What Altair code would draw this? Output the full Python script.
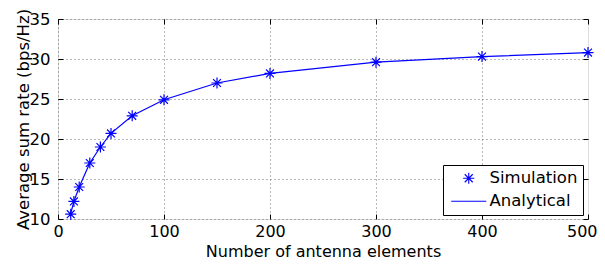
import altair as alt
import pandas as pd

# ---- data ----
antennas = [12, 15, 20, 30, 40, 50, 70, 100, 150, 200, 300, 400, 500]
simulation = [10.6, 12.2, 14.0, 17.0, 19.0, 20.7, 22.9, 24.9, 27.0, 28.2, 29.6, 30.3, 30.8]
analytical = [10.7, 12.2, 14.0, 17.0, 19.0, 20.7, 22.9, 24.9, 27.0, 28.2, 29.6, 30.3, 30.8]
x_ticks = [0, 100, 200, 300, 400, 500]
y_ticks = [10, 15, 20, 25, 30, 35]
series_names = ["Simulation", "Analytical"]

sim_df = pd.DataFrame({"n": antennas, "rate": simulation, "series": "Simulation"})
ana_df = pd.DataFrame({"n": antennas, "rate": analytical, "series": "Analytical"})

ASTERISK = "M-0.8,0L0.8,0M0,-0.8L0,0.8M-0.57,-0.57L0.57,0.57M-0.57,0.57L0.57,-0.57"
LINE = "M-2.5,0L2.5,0"
BLUE = "#0000ff"
FONT = "DejaVu Sans"
FS = 16.5
FSX = 16

xscale = alt.Scale(domain=[0, 500], nice=False)
yscale = alt.Scale(domain=[10, 35], nice=False)

legend = alt.Legend(
    title=None, orient="none", legendX=385, legendY=146,
    fillColor="white", strokeColor="black", padding=5,
    labelFont=FONT, labelFontSize=FS, labelColor="black", labelOffset=12.5,
    symbolOffset=12.5,
    rowPadding=6, symbolSize=196, symbolStrokeWidth=1.1,
)
color = alt.Color("series:N", scale=alt.Scale(domain=series_names, range=[BLUE, BLUE]), legend=legend)
shape = alt.Shape("series:N", scale=alt.Scale(domain=series_names, range=[ASTERISK, LINE]), legend=legend)

grid_style = dict(grid=True, gridDash=[1, 3], gridColor="#6e6e6e", gridOpacity=1, gridWidth=1)
plain = dict(domain=False, ticks=False, tickSize=0, labelFont=FONT, labelColor="black",
             titleFont=FONT, titleFontWeight="normal", titleColor="black")

x_main = alt.Axis(orient="bottom", values=x_ticks[:-1], title="Number of antenna elements",
                  labelFontSize=FSX, titleFontSize=FSX, labelFlush=False,
                  labelPadding=4, titleX=265, titleY=37, titleBaseline="alphabetic",
                  titleAlign="center", **plain, **grid_style)
y_main = alt.Axis(orient="left", values=y_ticks, title="Average sum rate (bps/Hz)",
                  labelFontSize=FS, titleFontSize=FS, labelFlush=False, labelPadding=8,
                  titleX=-35, titleY=100, titleAngle=-90, titleBaseline="middle",
                  titleAlign="center", **plain, **grid_style)
# last x label kept inside the page
x_last = alt.Axis(orient="bottom", values=x_ticks[-1:], title=None, labelPadding=4,
                  labelFontSize=FSX, labelFlush=True, labelFlushOffset=9, grid=False, **plain)


def tick_axis(orient, values):
    return alt.Axis(orient=orient, values=values, labels=False, title=None, domain=False,
                    grid=False, ticks=True, tickSize=5, offset=-5, tickColor="black", tickWidth=1)


line = alt.Chart(ana_df).mark_line(color=BLUE, strokeWidth=1.2).encode(
    x=alt.X("n:Q", scale=xscale, axis=x_main),
    y=alt.Y("rate:Q", scale=yscale, axis=y_main),
    color=color,
)

points = alt.Chart(sim_df).mark_point(filled=False, strokeWidth=1.2, size=190, opacity=1).encode(
    x=alt.X("n:Q", scale=xscale, axis=tick_axis("top", x_ticks)),
    y=alt.Y("rate:Q", scale=yscale, axis=tick_axis("right", y_ticks)),
    color=color,
    shape=shape,
)

ticks_layer = alt.Chart(sim_df).mark_point(opacity=0).encode(
    x=alt.X("n:Q", scale=xscale, axis=tick_axis("bottom", x_ticks)),
    y=alt.Y("rate:Q", scale=yscale, axis=tick_axis("left", y_ticks)),
)

last_label_layer = alt.Chart(sim_df).mark_point(opacity=0).encode(
    x=alt.X("n:Q", scale=xscale, axis=x_last),
    y=alt.Y("rate:Q", scale=yscale, axis=None),
)

chart = alt.layer(line, ticks_layer, last_label_layer, points).resolve_axis(
    x="independent", y="independent"
).properties(
    width=530, height=200,
    autosize=alt.AutoSizeParams(type="none"),
    padding={"left": 50, "top": 11, "right": 9, "bottom": 45},
).configure_view(stroke="black", strokeWidth=1.5).configure(background="white")

chart.save("out.html", embed_options={"renderer": "svg", "actions": False})
